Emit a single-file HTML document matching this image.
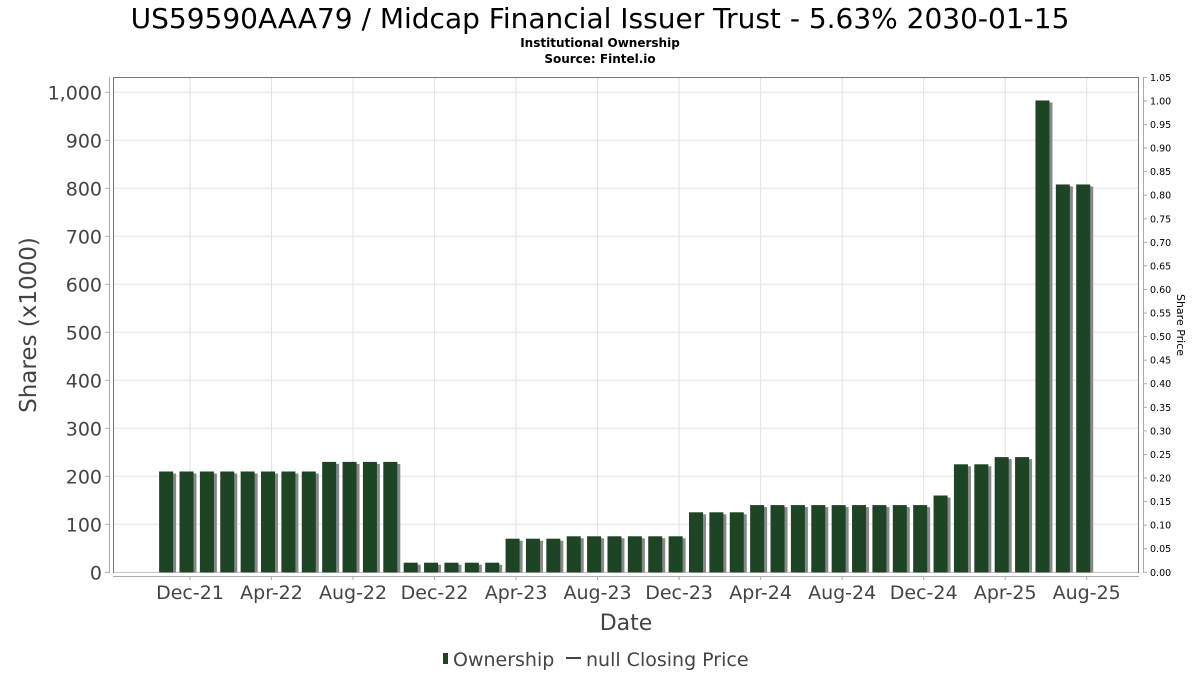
<!DOCTYPE html>
<html><head><meta charset="utf-8"><style>
body{margin:0;background:#fff;width:1200px;height:675px;overflow:hidden;font-family:"DejaVu Sans","Liberation Sans",sans-serif}
</style></head><body>
<svg id="c" width="1200" height="675" xmlns="http://www.w3.org/2000/svg">
<text x="600" y="28" text-anchor="middle" font-size="28" fill="#000">US59590AAA79 / Midcap Financial Issuer Trust - 5.63% 2030-01-15</text>
<text x="600" y="47" text-anchor="middle" font-size="12" font-weight="bold">Institutional Ownership</text>
<text x="600" y="63" text-anchor="middle" font-size="12" font-weight="bold">Source: Fintel.io</text>
<rect x="113.5" y="77.5" width="1025" height="495" fill="#fff" stroke="#777"/>
<g id="grid"></g><g id="bars"></g><g id="axes"></g>
<text transform="translate(36,325) rotate(-90)" text-anchor="middle" font-size="23" fill="#444">Shares (x1000)</text>
<text transform="translate(1177,325) rotate(90)" text-anchor="middle" font-size="11" fill="#000">Share Price</text>
<text x="626" y="630" text-anchor="middle" font-size="22" fill="#444">Date</text>
<g>
<rect x="443" y="653" width="5" height="11" fill="#1c4425"/>
<text x="453" y="666" font-size="19" fill="#444">Ownership</text>
<line x1="566" y1="658" x2="581" y2="658" stroke="#444" stroke-width="2"/>
<text x="586" y="666" font-size="19" fill="#444">null Closing Price</text>
</g>
</svg>
<script>
const values=[210,210,210,210,210,210,210,210,230,230,230,230,20,20,20,20,20,70,70,70,75,75,75,75,75,75,125,125,125,140,140,140,140,140,140,140,140,140,160,225,225,240,240,983,808,808];
const xTickLabels=["Dec-21","Apr-22","Aug-22","Dec-22","Apr-23","Aug-23","Dec-23","Apr-24","Aug-24","Dec-24","Apr-25","Aug-25"];
const yTicks=[0,100,200,300,400,500,600,700,800,900,1000];
const priceTicks=[0,0.05,0.1,0.15,0.2,0.25,0.3,0.35,0.4,0.45,0.5,0.55,0.6,0.65,0.7,0.75,0.8,0.85,0.9,0.95,1.0,1.05];
const NS="http://www.w3.org/2000/svg";
const y=v=>572.3-v*0.48;
const yp=p=>572.3-p*471.4;
const xm=m=>190+m*20.38; // month index, 0 = Dec-21
function mk(t,a,p){const e=document.createElementNS(NS,t);for(const k in a)e.setAttribute(k,a[k]);p.appendChild(e);return e;}
const grid=document.getElementById('grid'),bars=document.getElementById('bars'),axes=document.getElementById('axes');
mk('line',{x1:109.5,y1:77,x2:109.5,y2:573,stroke:'#aaa'},axes);
mk('line',{x1:113,y1:576.5,x2:1139,y2:576.5,stroke:'#aaa'},axes);
mk('line',{x1:1143.5,y1:77,x2:1143.5,y2:573,stroke:'#aaa'},axes);
yTicks.forEach(v=>{
 const g=mk('line',{x1:114,x2:1138,y1:y(v),y2:y(v),stroke:'#e2e2e2'},grid);
 
 
 mk('line',{x1:105,x2:109.5,y1:y(v),y2:y(v),stroke:'#aaa'},axes);
 const t=mk('text',{x:102,y:y(v)+7,'text-anchor':'end','font-size':19,fill:'#444'},axes);
 t.textContent=v.toLocaleString('en-US');
 
 
});
priceTicks.forEach(p=>{
 mk('line',{x1:1143.5,x2:1147,y1:yp(p),y2:yp(p),stroke:'#aaa'},axes);
 const t=mk('text',{x:1150,y:yp(p)+3.5,'font-size':9.5,fill:'#000'},axes);
 t.textContent=p.toFixed(2);
 
 
});
xTickLabels.forEach((l,i)=>{
 const x=xm(i*4);
 const g=mk('line',{x1:x,x2:x,y1:78,y2:572,stroke:'#e2e2e2'},grid);
 
 
 mk('line',{x1:x,x2:x,y1:576.5,y2:580,stroke:'#aaa'},axes);
 const t=mk('text',{x:x,y:599,'text-anchor':'middle','font-size':19,fill:'#444'},axes);
 t.textContent=l;
 
 
});
values.forEach((v,i)=>{
 const cx=xm(i-1)-3.5;
 mk('rect',{x:cx-7+3,y:y(v)+2,width:14,height:572.3-y(v)-2,fill:'#888'},bars);
 const r=mk('rect',{x:cx-7,y:y(v),width:14,height:572.3-y(v),fill:'#1c4425'},bars);
 
 
});
</script>
</body></html>
